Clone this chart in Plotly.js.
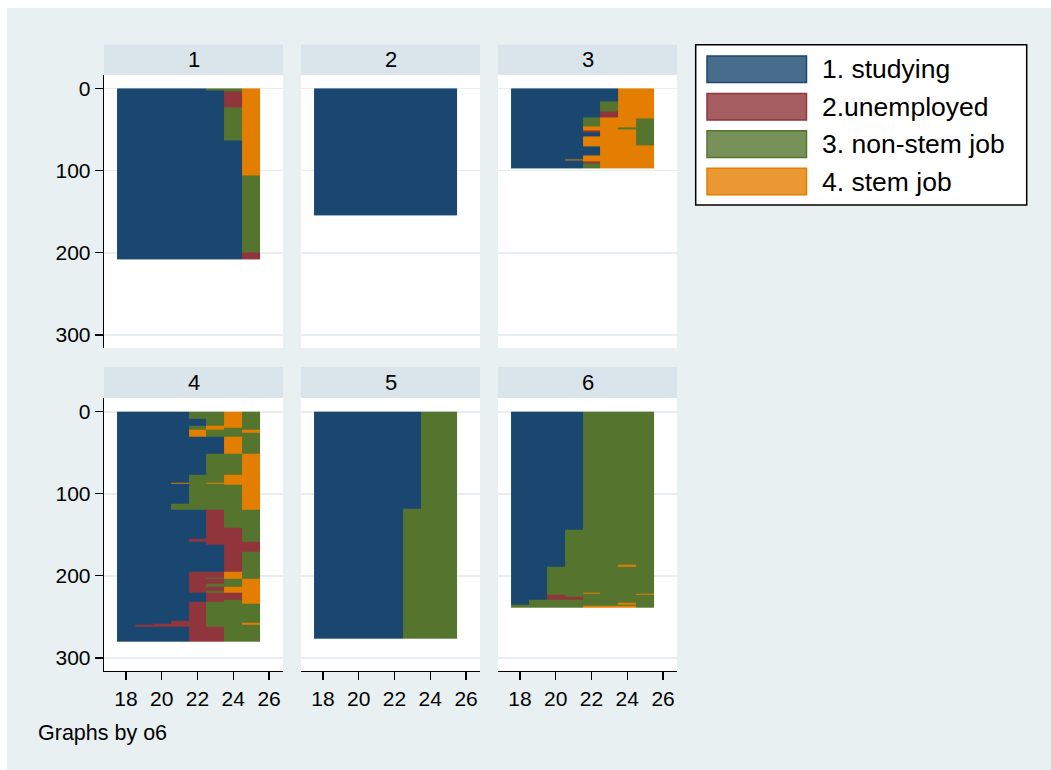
<!DOCTYPE html>
<html>
<head>
<meta charset="utf-8">
<script src="https://cdn.plot.ly/plotly-3.0.1.min.js"></script>
<style>html,body{margin:0;padding:0;background:#fff;}#chart{width:1051px;height:770px;}</style>
</head>
<body>
<div id="chart"></div>
<script>
// ---- data ----
const ages = [18, 19, 20, 21, 22, 23, 24, 25];
const stateLabels = ['1. studying', '2.unemployed', '3. non-stem job', '4. stem job'];
const panelNames = ['1', '2', '3', '4', '5', '6'];
const xTicks = [18, 20, 22, 24, 26];
const yTicks = [0, 100, 200, 300];
const footNote = 'Graphs by o6';

// panel 1: row boundaries (sequence index) and state per age (18..25)
const p1Edges = [0, 2.5, 4, 23, 63, 106, 200, 208];
const p1States = [
  [1,1,1,1,1,3,3,4],
  [1,1,1,1,1,1,3,4],
  [1,1,1,1,1,1,2,4],
  [1,1,1,1,1,1,3,4],
  [1,1,1,1,1,1,1,4],
  [1,1,1,1,1,1,1,3],
  [1,1,1,1,1,1,1,2]
];
const p2Edges = [0, 155];
const p2States = [
  [1,1,1,1,1,1,1,1]
];
const p3Edges = [0,16,28,35,36,46,48,50,51,54,58,69,70,81,86,88,89,91,97];
const p3States = [
  [1,1,1,1,1,1,4,4],
  [1,1,1,1,1,3,4,4],
  [1,1,1,1,1,2,4,4],
  [1,1,1,1,3,4,4,4],
  [1,1,1,1,3,4,4,3],
  [1,1,1,1,4,4,4,3],
  [1,1,1,1,4,4,3,3],
  [1,1,1,1,4,4,4,3],
  [1,1,1,1,2,4,4,3],
  [1,1,1,1,1,4,4,3],
  [1,1,1,1,4,4,4,3],
  [1,1,1,1,4,4,4,4],
  [1,1,1,1,1,4,4,4],
  [1,1,1,1,4,4,4,4],
  [1,1,1,4,4,4,4,4],
  [1,1,1,1,4,4,4,4],
  [1,1,1,1,2,4,4,4],
  [1,1,1,1,3,4,4,4]
];
const p4Edges = [0,8,17,19,22,25,31,51,77,86,88,89,112,120,141,155,159,162,170,195,202,204,209,213,218,220,229,232,234,255,257,258,260,262,280];
const p4States = [
  [1,1,1,1,3,3,4,3],
  [1,1,1,1,1,3,4,3],
  [1,1,1,1,3,4,4,3],
  [1,1,1,1,3,4,3,3],
  [1,1,1,1,4,3,3,4],
  [1,1,1,1,4,3,3,3],
  [1,1,1,1,1,1,4,3],
  [1,1,1,1,1,3,3,4],
  [1,1,1,1,3,3,4,4],
  [1,1,1,4,3,4,4,4],
  [1,1,1,1,3,3,4,4],
  [1,1,1,1,3,3,3,4],
  [1,1,1,3,3,3,3,4],
  [1,1,1,1,1,2,3,3],
  [1,1,1,1,1,2,2,3],
  [1,1,1,1,2,2,2,3],
  [1,1,1,1,1,2,2,2],
  [1,1,1,1,1,1,2,2],
  [1,1,1,1,1,1,2,3],
  [1,1,1,1,2,2,4,3],
  [1,1,1,1,2,3,4,3],
  [1,1,1,1,2,2,3,4],
  [1,1,1,1,2,3,3,4],
  [1,1,1,1,2,2,4,4],
  [1,1,1,1,2,3,4,4],
  [1,1,1,1,1,2,2,4],
  [1,1,1,1,1,2,3,4],
  [1,1,1,1,2,3,3,4],
  [1,1,1,1,2,3,3,3],
  [1,1,1,2,2,3,3,3],
  [1,1,1,2,2,3,3,4],
  [1,1,2,2,2,3,3,4],
  [1,2,2,2,2,3,3,3],
  [1,1,1,1,2,2,3,3]
];
const p5Edges = [0, 118.5, 277];
const p5States = [
  [1,1,1,1,1,1,3,3],
  [1,1,1,1,1,3,3,3]
];
const p6Edges = [0,144,187,189,220,221,222,223,226,229,233,235,236,239];
const p6States = [
  [1,1,1,1,3,3,3,3],
  [1,1,1,3,3,3,3,3],
  [1,1,1,3,3,3,4,3],
  [1,1,3,3,3,3,3,3],
  [1,1,4,3,3,3,3,3],
  [1,1,3,3,4,3,3,3],
  [1,1,3,3,3,3,3,4],
  [1,1,2,3,3,3,3,3],
  [1,1,2,2,3,3,3,3],
  [1,3,3,3,3,3,3,3],
  [1,3,3,3,3,3,4,3],
  [3,3,3,3,3,3,3,3],
  [3,3,3,3,4,4,4,3]
];
const panelEdges = [p1Edges, p2Edges, p3Edges, p4Edges, p5Edges, p6Edges];
const panelStates = [p1States, p2States, p3States, p4States, p5States, p6States];

// ---- styles ----
const W = 1051, H = 770;
const strong = ['#1a476f', '#90353b', '#55752f', '#e37e00'];
const light = ['#486c8c', '#a65d62', '#779159', '#e99833'];
const outerBg = '#e8f0f2';
const stripBg = '#d9e5eb';
const gridCol = '#e6eef1';
const FONT = 'Liberation Sans, Arial, Helvetica, sans-serif';

const colX = [[104, 283], [301, 480], [498, 677]];
const rowY = [[74.7, 348], [398, 671]];
const stripY = [[44.5, 74.7], [367, 398]];

const px = v => v / W;
const py = v => 1 - v / H;

const xEdges = ages.map(a => a - 0.5).concat([ages[ages.length - 1] + 0.5]);
const colorscale = [
  [0, strong[0]], [0.25, strong[0]],
  [0.25, strong[1]], [0.5, strong[1]],
  [0.5, strong[2]], [0.75, strong[2]],
  [0.75, strong[3]], [1, strong[3]]
];

const data = [];
const layout = {
  width: W, height: H,
  paper_bgcolor: outerBg,
  plot_bgcolor: '#ffffff',
  margin: {l: 0, r: 0, t: 0, b: 0},
  showlegend: false,
  font: {family: FONT, color: '#000'},
  shapes: [], annotations: []
};

// white outer margins (top / left)
layout.shapes.push({type: 'rect', xref: 'paper', yref: 'paper', x0: 0, x1: 1, y0: py(8), y1: 1, fillcolor: '#ffffff', line: {width: 0}, layer: 'below'});
layout.shapes.push({type: 'rect', xref: 'paper', yref: 'paper', x0: 0, x1: px(7), y0: 0, y1: 1, fillcolor: '#ffffff', line: {width: 0}, layer: 'below'});

for (let i = 0; i < 6; i++) {
  const r = Math.floor(i / 3), c = i % 3;
  const n = i + 1;
  const xa = 'xaxis' + (n === 1 ? '' : n);
  const ya = 'yaxis' + (n === 1 ? '' : n);
  const bottom = r === 1, left = c === 0;
  data.push({
    type: 'heatmap',
    x: xEdges,
    y: panelEdges[i],
    z: panelStates[i],
    zmin: 0.5, zmax: 4.5,
    colorscale: colorscale,
    showscale: false,
    hoverinfo: 'skip',
    xaxis: 'x' + (n === 1 ? '' : n),
    yaxis: 'y' + (n === 1 ? '' : n)
  });
  layout[xa] = {
    domain: [px(colX[c][0]), px(colX[c][1])],
    range: [16.77, 26.78],
    anchor: 'y' + (n === 1 ? '' : n),
    showgrid: false, zeroline: false,
    showline: bottom, linecolor: '#000', linewidth: 1.3,
    ticks: bottom ? 'outside' : '', ticklen: 8, tickwidth: 1.3, tickcolor: '#000',
    tickvals: xTicks, ticktext: xTicks.map(String),
    showticklabels: bottom,
    tickfont: {family: FONT, size: 21, color: '#000'},
    fixedrange: true
  };
  layout[ya] = {
    domain: [py(rowY[r][1]), py(rowY[r][0])],
    range: [316, -16.7],
    anchor: 'x' + (n === 1 ? '' : n),
    showgrid: true, gridcolor: gridCol, gridwidth: 1.6, zeroline: false,
    showline: left, linecolor: '#000', linewidth: 1.3,
    ticks: left ? 'outside' : '', ticklen: 8, tickwidth: 1.3, tickcolor: '#000',
    tickvals: yTicks, ticktext: yTicks.map(String),
    showticklabels: left,
    tickfont: {family: FONT, size: 21, color: '#000'},
    fixedrange: true
  };
  // header strip
  layout.shapes.push({
    type: 'rect', xref: 'paper', yref: 'paper',
    x0: px(colX[c][0]), x1: px(colX[c][1]),
    y0: py(stripY[r][1]), y1: py(stripY[r][0]),
    fillcolor: stripBg, line: {width: 0}, layer: 'below'
  });
  layout.annotations.push({
    xref: 'paper', yref: 'paper',
    x: px((colX[c][0] + colX[c][1]) / 2), y: py((stripY[r][0] + stripY[r][1]) / 2),
    xanchor: 'center', yanchor: 'middle',
    text: panelNames[i], showarrow: false,
    font: {family: FONT, size: 22, color: '#000'}
  });
}

// legend box
layout.shapes.push({
  type: 'rect', xref: 'paper', yref: 'paper',
  x0: px(695.7), x1: px(1026.7), y0: py(205), y1: py(44.7),
  fillcolor: '#ffffff', line: {color: '#000', width: 1.5}
});
const swTop = [56, 93.4, 130.8, 168.2];
for (let k = 0; k < 4; k++) {
  layout.shapes.push({
    type: 'rect', xref: 'paper', yref: 'paper',
    x0: px(707), x1: px(806.5), y0: py(swTop[k] + 26.6), y1: py(swTop[k]),
    fillcolor: light[k], line: {color: strong[k], width: 1.5}
  });
  layout.annotations.push({
    xref: 'paper', yref: 'paper',
    x: px(820), y: py(swTop[k] + 13.3),
    xanchor: 'left', yanchor: 'middle',
    text: stateLabels[k], showarrow: false,
    font: {family: FONT, size: 26.5, color: '#000'}
  });
}

layout.annotations.push({
  xref: 'paper', yref: 'paper',
  x: px(36), y: py(733),
  xanchor: 'left', yanchor: 'middle',
  text: footNote, showarrow: false,
  font: {family: FONT, size: 21.5, color: '#000'}
});

Plotly.newPlot('chart', data, layout, {displayModeBar: false, staticPlot: true});
</script>
</body>
</html>
